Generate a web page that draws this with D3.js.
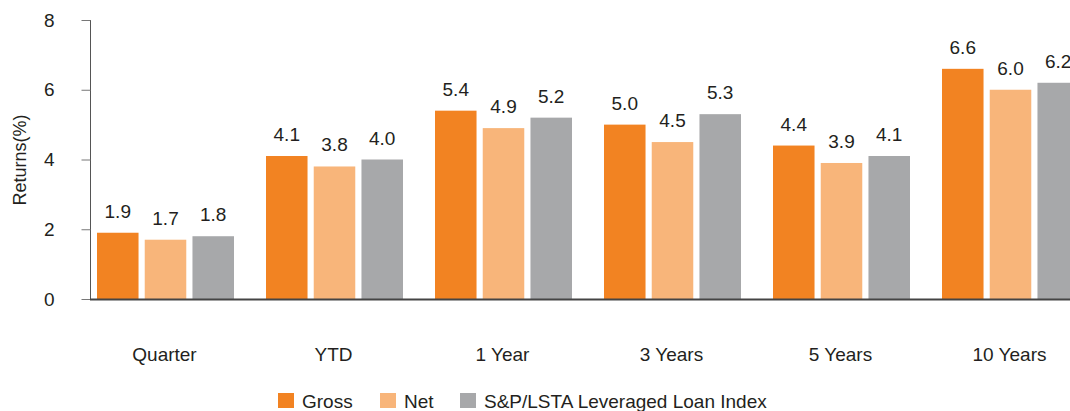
<!DOCTYPE html>
<html><head><meta charset="utf-8">
<script src="https://cdn.jsdelivr.net/npm/d3@7"></script>
<style>body{margin:0;background:#fff}svg{display:block}text{font-family:"Liberation Sans",Arial,sans-serif;fill:#231F20}</style>
</head><body><svg id="c" width="1070" height="411"></svg>
<script>
const categories = ["Quarter","YTD","1 Year","3 Years","5 Years","10 Years"];
const seriesNames = ["Gross","Net","S&P/LSTA Leveraged Loan Index"];
const gross = [1.9,4.1,5.4,5.0,4.4,6.6];
const net = [1.7,3.8,4.9,4.5,3.9,6.0];
const index = [1.8,4.0,5.2,5.3,4.1,6.2];
const yTicks = [0,2,4,6,8];
const colors = ["#F28322","#F8B57A","#A7A8AA"];

const svg = d3.select("#c");
const series = [gross, net, index];
const data = categories.map((c,i)=>({cat:c, vals: series.map((s,j)=>({key:seriesNames[j], v:s[i], j}))}));

const y = d3.scaleLinear().domain([0,8]).range([299,20]);
const x0 = d3.scaleBand().domain(categories).range([80,1094]);
const x1 = d3.scaleBand().domain(seriesNames).range([17,154]).paddingInner(0.13);

const g = svg.append("g");
const groups = g.selectAll("g.grp").data(data).join("g").attr("transform",d=>`translate(${x0(d.cat)},0)`);
groups.selectAll("rect").data(d=>d.vals).join("rect")
  .attr("x",d=>x1(d.key)).attr("width",x1.bandwidth())
  .attr("y",d=>y(d.v)).attr("height",d=>y(0)-y(d.v)).attr("fill",d=>colors[d.j]);
groups.selectAll("text.val").data(d=>d.vals).join("text").attr("class","val")
  .attr("x",d=>x1(d.key)+x1.bandwidth()/2).attr("y",d=>y(d.v)-15)
  .attr("text-anchor","middle").style("font-size","19px").text(d=>d.v.toFixed(1));

// y axis
const yAxis = svg.append("g").attr("transform","translate(90.5,0)")
  .call(d3.axisLeft(y).tickValues(yTicks).tickSize(9).tickPadding(27).tickFormat(d3.format("d")));
yAxis.select(".domain").attr("stroke","#555").attr("d","M0,20V299");
yAxis.selectAll(".tick line").attr("stroke","#777");
yAxis.selectAll(".tick text").style("font-size","19px").attr("fill","#231F20").attr("font-family","Liberation Sans, Arial, sans-serif");

// baseline
svg.append("line").attr("x1",90).attr("x2",1070).attr("y1",299.5).attr("y2",299.5).attr("stroke","#444").attr("stroke-width",2);

// category labels
svg.selectAll("text.cat").data(categories).join("text").attr("class","cat")
  .attr("x",d=>x0(d)+x0.bandwidth()/2).attr("y",361).attr("text-anchor","middle")
  .style("font-size","19px").text(d=>d);

// y title
svg.append("text").attr("transform","translate(26,160) rotate(-90)").attr("text-anchor","middle")
  .style("font-size","18px").text("Returns(%)");

// legend
const legX = [278,380,460];
const leg = svg.selectAll("g.leg").data(seriesNames).join("g").attr("class","leg")
  .attr("transform",(d,i)=>`translate(${legX[i]},393)`);
leg.append("rect").attr("width",16).attr("height",15).attr("fill",(d,i)=>colors[i]);
leg.append("text").attr("x",24).attr("y",15).style("font-size","19px").text(d=>d);
</script></body></html>
